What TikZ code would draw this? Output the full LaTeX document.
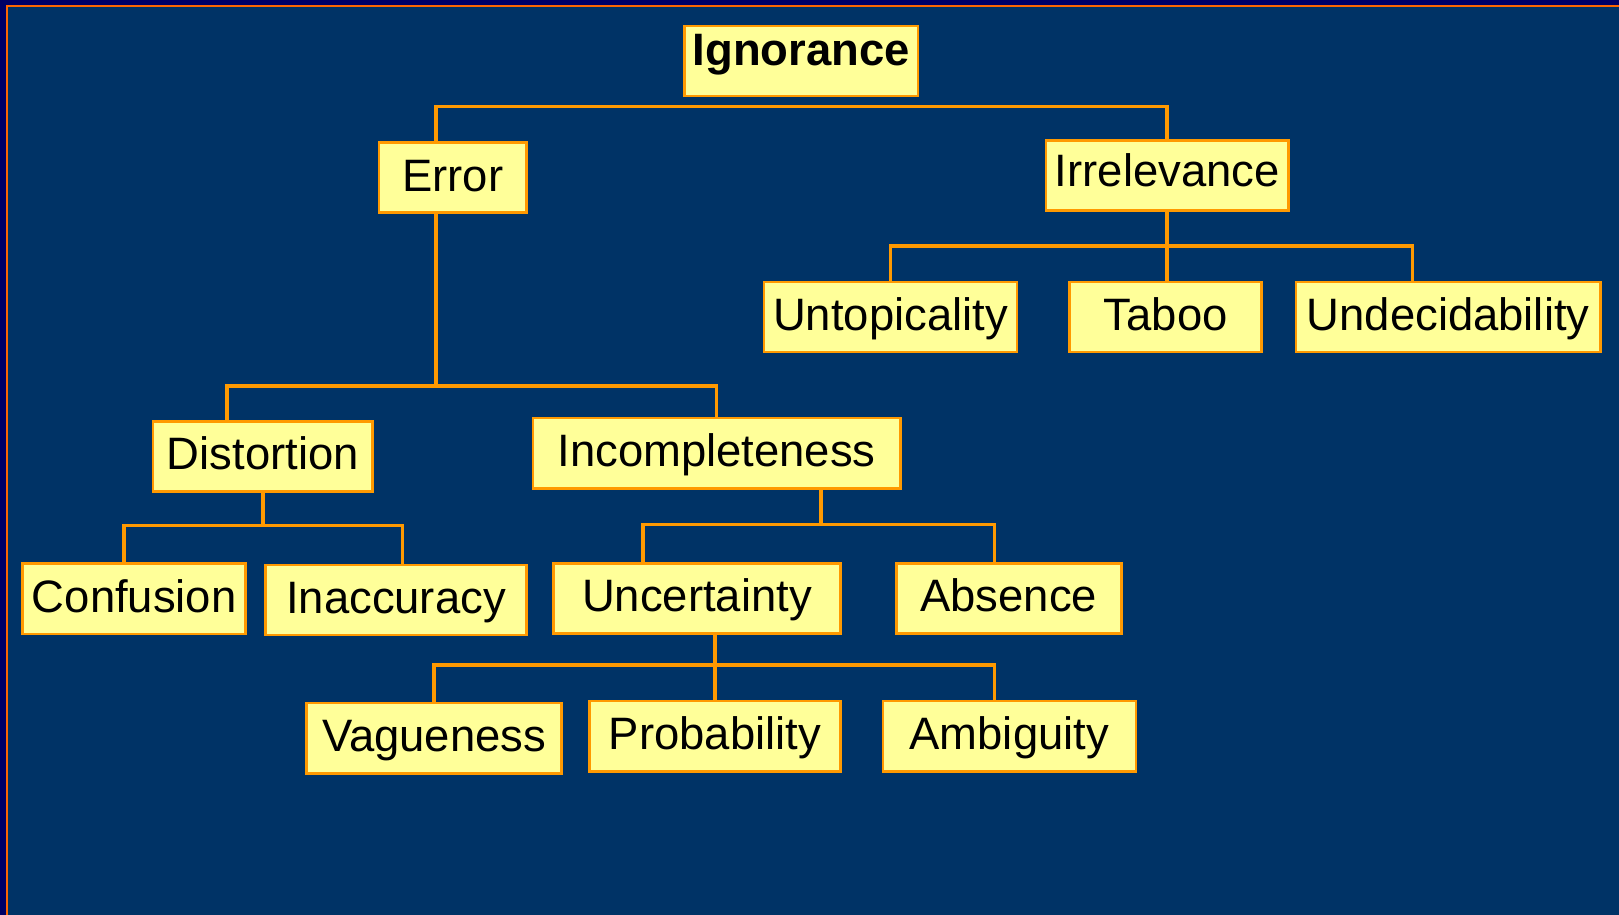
\documentclass[tikz,border=0pt]{standalone}
\usepackage{fontspec}
\setmainfont{Liberation Sans}
\usepackage{xcolor}
\usetikzlibrary{calc}

\definecolor{slideblue}{HTML}{003366}
\definecolor{slidenavy}{HTML}{000066}
\definecolor{boxfill}{HTML}{FFFF99}
\definecolor{linkorange}{HTML}{FF9900}
\definecolor{frameorange}{HTML}{FF6600}

\tikzset{
  term/.style={draw=linkorange, line width=2.5pt, fill=boxfill, inner sep=0pt,
    text height=47pt, text depth=21pt, font=\fontsize{44}{50}\selectfont},
  link/.style={draw=linkorange, line width=3.5pt},
}

\begin{document}
\begin{tikzpicture}[x=1pt, y=-1pt]
\useasboundingbox (0,0) rectangle (1568,886);

% Slide background and frame
\fill[slidenavy] (0,0) rectangle (1568,886);
\fill[slideblue] (7,6) rectangle (1568,886);
\draw[frameorange, line width=2pt] (1568,6) -- (7,6) -- (7,886);

% Levels of the horizontal bars
\coordinate (topbar) at (0,103);
\coordinate (irrbar) at (0,238);
\coordinate (errbar) at (0,374);
\coordinate (disbar) at (0,509);
\coordinate (incbar) at (0,508);
\coordinate (uncbar) at (0,644);

% Terms
\node[term, minimum width=226pt, text height=38pt, text depth=30pt] (ignorance) at (776,59) {\bfseries Ignorance};
\node[term, minimum width=143pt] (error) at (438.5,172) {Error};
\node[term, minimum width=235pt, text height=45pt, text depth=23pt] (irrelevance) at (1130.5,170) {Irrelevance};
\node[term, minimum width=245pt] (untopicality) at (862.5,307) {Untopicality};
\node[term, minimum width=186pt] (taboo) at (1129,307) {Taboo};
\node[term, minimum width=295pt] (undecidability) at (1402.5,307) {Undecidability};
\node[term, minimum width=213pt] (distortion) at (254.5,442) {Distortion};
\node[term, minimum width=356pt] (incompleteness) at (694,439) {Incompleteness};
\node[term, minimum width=216pt] (confusion) at (130,580) {Confusion};
\node[term, minimum width=253pt] (inaccuracy) at (383.5,581) {Inaccuracy};
\node[term, minimum width=278pt] (uncertainty) at (675,579.5) {Uncertainty};
\node[term, minimum width=218pt] (absence) at (977,579.5) {Absence};
\node[term, minimum width=247pt] (vagueness) at (420.5,715) {Vagueness};
\node[term, minimum width=243pt] (probability) at (692.5,713) {Probability};
\node[term, minimum width=245pt] (ambiguity) at (977.5,713) {Ambiguity};

% Ends of connectors that are off centre
\coordinate (errin) at ([xshift=-16.5pt]error.north);
\coordinate (errout) at ([xshift=-16.5pt]error.south);
\coordinate (undecin) at ([xshift=-34.5pt]undecidability.north);
\coordinate (distin) at ([xshift=-34.5pt]distortion.north);
\coordinate (confin) at ([xshift=-10pt]confusion.north);
\coordinate (inaccin) at ([xshift=6.5pt]inaccuracy.north);
\coordinate (incout) at ([xshift=101pt]incompleteness.south);
\coordinate (uncin) at ([xshift=-52pt]uncertainty.north);
\coordinate (absin) at ([xshift=-14pt]absence.north);
\coordinate (ambin) at ([xshift=-14.5pt]ambiguity.north);

% Ignorance
\draw[link] (errin) |- (topbar -| irrelevance) -- (irrelevance.north);

% Irrelevance
\draw[link] (irrelevance.south) -- (irrelevance.south |- taboo.north);
\draw[link] (untopicality.north) |- (irrbar -| undecin) -- (undecin);

% Error
\draw[link] (errout) -- (errbar -| errout);
\draw[link] (distin) |- (errbar -| incompleteness) -- (incompleteness.north);

% Distortion
\draw[link] (distortion.south) -- (disbar -| distortion);
\draw[link] (confin) |- (disbar -| inaccin) -- (inaccin);

% Incompleteness
\draw[link] (incout) -- (incbar -| incout);
\draw[link] (uncin) |- (incbar -| absin) -- (absin);

% Uncertainty
\draw[link] (uncertainty.south -| probability) -- (probability.north);
\draw[link] (vagueness.north) |- (uncbar -| ambin) -- (ambin);

\end{tikzpicture}
\end{document}
